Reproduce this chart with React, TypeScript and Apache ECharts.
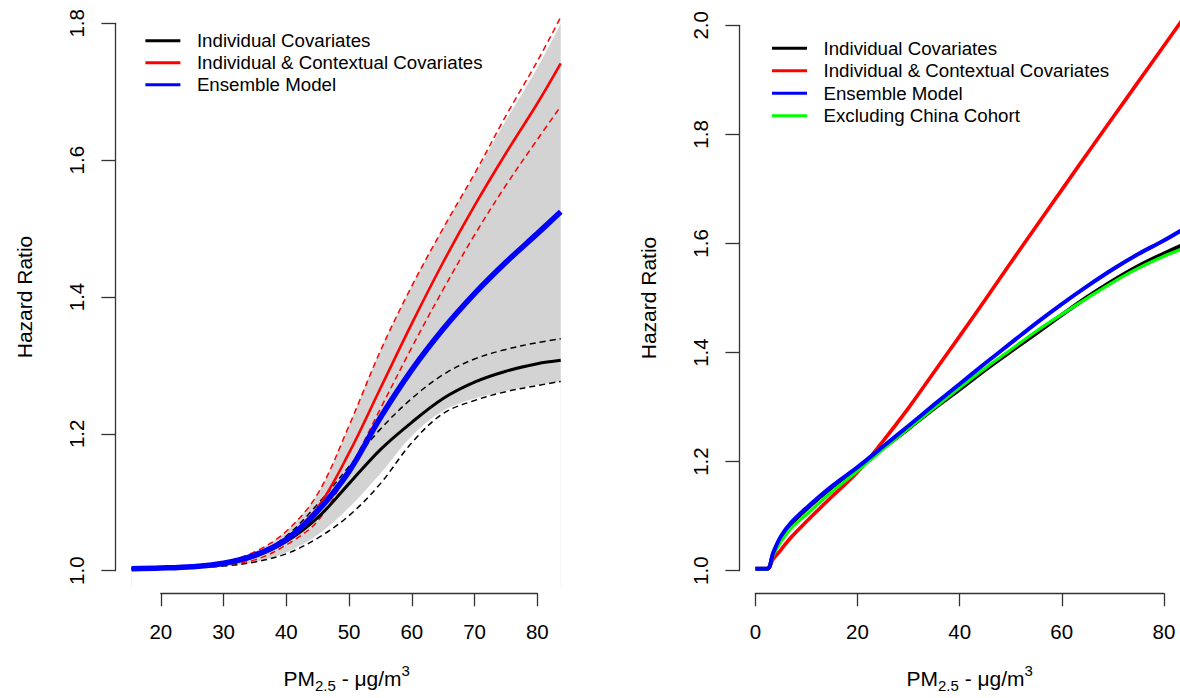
import React, { useEffect, useRef } from "react";
import * as echarts from "echarts";

// ---------- Left panel data ----------
const LEFT_X = [15.33, 20, 25, 30, 35, 40, 45, 50, 55, 60, 65, 70, 75, 80, 83.74];
const LEFT_IC = [1.0, 1.001, 1.003, 1.007, 1.018, 1.04, 1.075, 1.125, 1.175, 1.215, 1.25, 1.274, 1.29, 1.301, 1.306];
const LEFT_IC_UP = [1.0, 1.001, 1.003, 1.008, 1.02, 1.048, 1.095, 1.15, 1.205, 1.25, 1.285, 1.308, 1.322, 1.332, 1.3376];
const LEFT_IC_LO = [1.0, 1.0005, 1.002, 1.004, 1.01, 1.022, 1.045, 1.078, 1.125, 1.185, 1.228, 1.247, 1.26, 1.269, 1.275];
const LEFT_ICC = [1.0, 1.001, 1.003, 1.008, 1.02, 1.045, 1.09, 1.17, 1.265, 1.36, 1.45, 1.533, 1.61, 1.683, 1.742];
const LEFT_ICC_UP = [1.0, 1.001, 1.004, 1.01, 1.025, 1.055, 1.11, 1.21, 1.32, 1.415, 1.5, 1.58, 1.665, 1.745, 1.81];
const LEFT_ICC_LO = [1.0, 1.0005, 1.002, 1.006, 1.013, 1.035, 1.07, 1.145, 1.235, 1.325, 1.41, 1.49, 1.563, 1.63, 1.679];
const LEFT_ENS = [1.0, 1.001, 1.003, 1.008, 1.02, 1.043, 1.085, 1.143, 1.222, 1.292, 1.352, 1.404, 1.45, 1.492, 1.524];
const LEFT_BAND_UP = [1.0, 1.001, 1.004, 1.01, 1.025, 1.055, 1.11, 1.21, 1.32, 1.415, 1.5, 1.578, 1.658, 1.735, 1.8];
const LEFT_BAND_LO = [1.0, 1.0005, 1.002, 1.004, 1.01, 1.024, 1.05, 1.09, 1.14, 1.195, 1.232, 1.25, 1.261, 1.27, 1.275];

// ---------- Right panel data ----------
const RIGHT_X = [0, 2.3, 3.5, 5, 7, 10, 15, 20, 25, 30, 35, 40, 45, 50, 55, 60, 65, 70, 75, 80, 84];
const RIGHT_IC = [1.0, 1.0, 1.028, 1.057, 1.082, 1.11, 1.15, 1.185, 1.222, 1.258, 1.295, 1.33, 1.366, 1.4, 1.433, 1.467, 1.5, 1.53, 1.557, 1.58, 1.597];
const RIGHT_ICC = [1.0, 1.0, 1.018, 1.035, 1.058, 1.087, 1.133, 1.178, 1.235, 1.296, 1.362, 1.428, 1.495, 1.563, 1.63, 1.697, 1.764, 1.83, 1.896, 1.962, 2.015];
const RIGHT_ENS = [1.0, 1.0, 1.03, 1.06, 1.085, 1.112, 1.152, 1.187, 1.225, 1.263, 1.302, 1.34, 1.378, 1.415, 1.452, 1.487, 1.52, 1.551, 1.579, 1.604, 1.626];
const RIGHT_EXCL = [1.0, 1.0, 1.025, 1.05, 1.075, 1.1, 1.142, 1.18, 1.22, 1.258, 1.296, 1.333, 1.369, 1.403, 1.437, 1.468, 1.498, 1.527, 1.553, 1.575, 1.59];

// ---------- Labels ----------
const NAME_IC = "Individual Covariates";
const NAME_ICC = "Individual & Contextual Covariates";
const NAME_ENS = "Ensemble Model";
const NAME_EXCL = "Excluding China Cohort";
const LEFT_LEGEND = [NAME_IC, NAME_ICC, NAME_ENS];
const RIGHT_LEGEND = [NAME_IC, NAME_ICC, NAME_ENS, NAME_EXCL];
const Y_TITLE = "Hazard Ratio";
const X_TITLE = "{m|PM}{s|2.5}{m| - μg/m}{p|3}";

const LEFT_XTICKS = { min: 20, max: 80, interval: 10 };
const LEFT_YTICKS = { min: 1.0, max: 1.8, interval: 0.2 };
const RIGHT_XTICKS = { min: 0, max: 80, interval: 20 };
const RIGHT_YTICKS = { min: 1.0, max: 2.0, interval: 0.2 };

const FONT = "'Liberation Sans', Arial, Helvetica, sans-serif";
const AXIS_COLOR = "#333";
const SMOOTH = 0.35;

function pairs(xs: number[], ys: number[]) {
  return xs.map((x, i) => [x, ys[i]]);
}

const richTitle = {
  m: { fontSize: 21, lineHeight: 30, verticalAlign: "middle", color: "#000", fontFamily: FONT },
  s: { fontSize: 15, lineHeight: 15, verticalAlign: "bottom", color: "#000", fontFamily: FONT },
  p: { fontSize: 15, lineHeight: 15, verticalAlign: "top", color: "#000", fontFamily: FONT },
};

function hiddenAxis(gridIndex: number, min: number, max: number) {
  return { type: "value", gridIndex, min, max, show: false };
}

function tickXAxis(gridIndex: number, t: { min: number; max: number; interval: number }) {
  return {
    type: "value",
    gridIndex,
    position: "bottom",
    min: t.min,
    max: t.max,
    interval: t.interval,
    axisLine: { show: true, lineStyle: { color: AXIS_COLOR, width: 1.3 } },
    axisTick: { show: true, inside: false, length: 13, lineStyle: { color: AXIS_COLOR, width: 1.3 } },
    axisLabel: { show: true, margin: 28, fontSize: 20.5, color: "#000", fontFamily: FONT },
    splitLine: { show: false },
  };
}

function tickYAxis(gridIndex: number, t: { min: number; max: number; interval: number }) {
  return {
    type: "value",
    gridIndex,
    position: "left",
    min: t.min,
    max: t.max,
    interval: t.interval,
    axisLine: { show: true, lineStyle: { color: AXIS_COLOR, width: 1.3 } },
    axisTick: { show: true, inside: false, length: 14, lineStyle: { color: AXIS_COLOR, width: 1.3 } },
    axisLabel: {
      show: true,
      rotate: 90,
      margin: 28,
      fontSize: 20.5,
      color: "#000",
      fontFamily: FONT,
      formatter: (v: number) => v.toFixed(1),
    },
    splitLine: { show: false },
    name: Y_TITLE,
    nameLocation: "middle",
    nameGap: 80,
    nameRotate: 90,
    nameTextStyle: { fontSize: 21, color: "#000", fontFamily: FONT },
  };
}

function dataXAxis(gridIndex: number, min: number, max: number) {
  return {
    type: "value",
    gridIndex,
    min,
    max,
    axisLine: { show: false },
    axisTick: { show: false },
    axisLabel: { show: false },
    splitLine: { show: false },
    name: X_TITLE,
    nameLocation: "middle",
    nameGap: 75,
    nameTextStyle: { rich: richTitle },
  };
}

function line(name: string, xi: number, data: number[][], color: string, width: number, dashed = false, z = 3) {
  return {
    type: "line",
    name,
    xAxisIndex: xi,
    yAxisIndex: xi,
    data,
    color,
    symbol: "none",
    smooth: SMOOTH,
    z,
    lineStyle: { color, width, type: dashed ? [6, 4] : "solid" },
    emphasis: { disabled: true },
  };
}

function areaLine(name: string, data: number[][], fill: string, z: number) {
  return {
    type: "line",
    name,
    xAxisIndex: 0,
    yAxisIndex: 0,
    data,
    symbol: "none",
    smooth: SMOOTH,
    z,
    lineStyle: { width: 0, opacity: 0 },
    areaStyle: { color: fill, opacity: 1, origin: "start" },
    emphasis: { disabled: true },
  };
}

function legend(names: string[], left: number, top: number, lh: number) {
  return {
    data: names,
    orient: "vertical",
    left,
    top,
    padding: 0,
    itemGap: 0,
    itemWidth: 35,
    itemHeight: 3,
    icon: "rect",
    selectedMode: false,
    itemStyle: { borderWidth: 0 },
    textStyle: {
      fontSize: 18.7,
      lineHeight: lh,
      color: "#000",
      fontFamily: FONT,
      padding: [0, 0, 0, 11.5],
    },
  };
}

export default function App() {
  const ref = useRef<HTMLDivElement>(null);

  useEffect(() => {
    const chart = echarts.init(ref.current!, null, { renderer: "svg" });

    const option: any = {
      animation: false,
      backgroundColor: "#fff",
      textStyle: { fontFamily: FONT },
      grid: [
        { left: 115.4, top: 0, width: 462.6, height: 590 }, // 0 left data
        { left: 160.8, top: 592.3, width: 376.5, height: 1 }, // 1 left x axis
        { left: 115.4, top: 23.3, width: 1, height: 547.4 }, // 2 left y axis
        { left: 739.4, top: 0, width: 460.6, height: 590 }, // 3 right data
        { left: 755.4, top: 592.3, width: 408.5, height: 1 }, // 4 right x axis
        { left: 739.4, top: 25.3, width: 1, height: 545.4 }, // 5 right y axis
      ],
      xAxis: [
        dataXAxis(0, 12.765, 86.49),
        tickXAxis(1, LEFT_XTICKS),
        hiddenAxis(2, 0, 1),
        dataXAxis(3, -3.134, 87.07),
        tickXAxis(4, RIGHT_XTICKS),
        hiddenAxis(5, 0, 1),
      ],
      yAxis: [
        hiddenAxis(0, 0.97176, 1.835),
        hiddenAxis(1, 0, 1),
        tickYAxis(2, LEFT_YTICKS),
        hiddenAxis(3, 0.96471, 2.0462),
        hiddenAxis(4, 0, 1),
        tickYAxis(5, RIGHT_YTICKS),
      ],
      legend: [legend(LEFT_LEGEND, 145.4, 29.7, 22), legend(RIGHT_LEGEND, 772, 37, 22.5)],
      series: [
        // left confidence band: gray fill down from upper edge, white fill down from lower edge
        areaLine("band-upper", pairs(LEFT_X, LEFT_BAND_UP), "#d3d3d3", 1),
        areaLine("band-lower", pairs(LEFT_X, LEFT_BAND_LO), "#ffffff", 1.5),
        line("IC-upper", 0, pairs(LEFT_X, LEFT_IC_UP), "#000000", 1.5, true, 2),
        line("IC-lower", 0, pairs(LEFT_X, LEFT_IC_LO), "#000000", 1.5, true, 2),
        line("ICC-upper", 0, pairs(LEFT_X, LEFT_ICC_UP), "#ff0000", 1.5, true, 2),
        line("ICC-lower", 0, pairs(LEFT_X, LEFT_ICC_LO), "#ff0000", 1.5, true, 2),
        line(NAME_IC, 0, pairs(LEFT_X, LEFT_IC), "#000000", 3, false, 3),
        line(NAME_ICC, 0, pairs(LEFT_X, LEFT_ICC), "#ff0000", 2.6, false, 3),
        line(NAME_ENS, 0, pairs(LEFT_X, LEFT_ENS), "#0000ff", 5.5, false, 4),
        // right
        line(NAME_IC, 3, pairs(RIGHT_X, RIGHT_IC), "#000000", 4, false, 3),
        line(NAME_ICC, 3, pairs(RIGHT_X, RIGHT_ICC), "#ff0000", 3.6, false, 3),
        line(NAME_EXCL, 3, pairs(RIGHT_X, RIGHT_EXCL), "#00ff00", 3.2, false, 3),
        line(NAME_ENS, 3, pairs(RIGHT_X, RIGHT_ENS), "#0000ff", 4, false, 4),
      ],
    };

    chart.setOption(option);
    return () => chart.dispose();
  }, []);

  return (
    <div
      style={{
        position: "absolute",
        left: 0,
        top: 0,
        width: 1180,
        height: 698,
        overflow: "hidden",
        background: "#fff",
      }}
    >
      <div ref={ref} style={{ width: 1220, height: 698 }} />
    </div>
  );
}
